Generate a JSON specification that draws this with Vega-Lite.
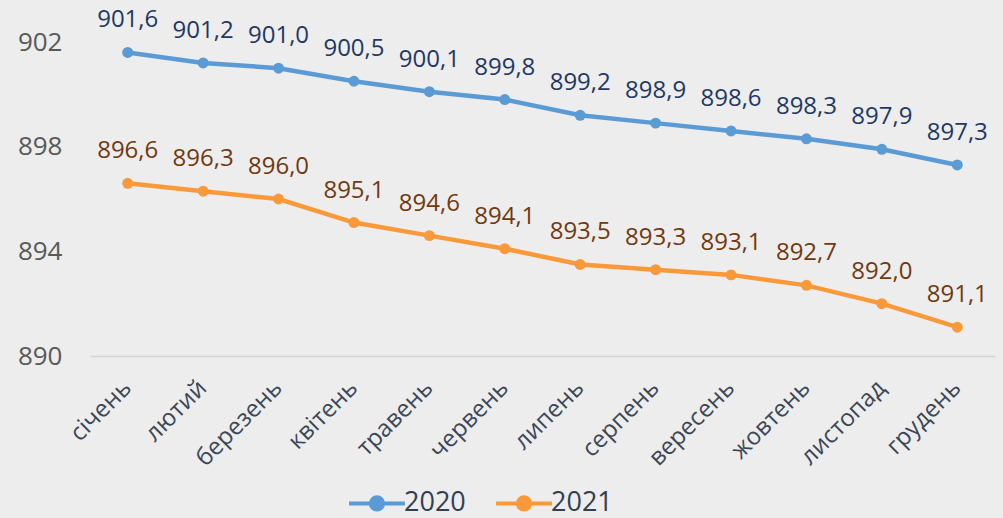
{
  "$schema": "https://vega.github.io/schema/vega-lite/v6.json",
  "width": 905,
  "height": 314,
  "autosize": {"type": "none"},
  "padding": {"left": 90, "top": 42, "right": 8, "bottom": 162},
  "background": "#ededed",
  "config": {
    "view": {"stroke": null},
    "font": "Open Sans",
    "locale": {"number": {"decimal": ",", "thousands": " ", "grouping": [3], "currency": ["", ""]}}
  },
  "data": {
    "values": [
      {"month": "січень", "year": "2020", "value": 901.6},
      {"month": "лютий", "year": "2020", "value": 901.2},
      {"month": "березень", "year": "2020", "value": 901.0},
      {"month": "квітень", "year": "2020", "value": 900.5},
      {"month": "травень", "year": "2020", "value": 900.1},
      {"month": "червень", "year": "2020", "value": 899.8},
      {"month": "липень", "year": "2020", "value": 899.2},
      {"month": "серпень", "year": "2020", "value": 898.9},
      {"month": "вересень", "year": "2020", "value": 898.6},
      {"month": "жовтень", "year": "2020", "value": 898.3},
      {"month": "листопад", "year": "2020", "value": 897.9},
      {"month": "грудень", "year": "2020", "value": 897.3},
      {"month": "січень", "year": "2021", "value": 896.6},
      {"month": "лютий", "year": "2021", "value": 896.3},
      {"month": "березень", "year": "2021", "value": 896.0},
      {"month": "квітень", "year": "2021", "value": 895.1},
      {"month": "травень", "year": "2021", "value": 894.6},
      {"month": "червень", "year": "2021", "value": 894.1},
      {"month": "липень", "year": "2021", "value": 893.5},
      {"month": "серпень", "year": "2021", "value": 893.3},
      {"month": "вересень", "year": "2021", "value": 893.1},
      {"month": "жовтень", "year": "2021", "value": 892.7},
      {"month": "листопад", "year": "2021", "value": 892.0},
      {"month": "грудень", "year": "2021", "value": 891.1}
    ]
  },
  "encoding": {
    "x": {
      "field": "month", "type": "nominal", "sort": null, "title": null,
      "scale": {"type": "band", "paddingInner": 0, "paddingOuter": 0},
      "axis": {
        "labelAngle": -45, "labelAlign": "right", "labelBaseline": "middle",
        "labelFontSize": 24, "labelColor": "#3b4757", "labelPadding": 28,
        "ticks": false, "domainColor": "#d4d4d4", "domainWidth": 1.5, "grid": false
      }
    },
    "y": {
      "field": "value", "type": "quantitative", "title": null,
      "scale": {"domain": [890, 902], "zero": false, "nice": false},
      "axis": {
        "values": [890, 894, 898, 902], "format": "d",
        "labelFontSize": 26, "labelColor": "#595959", "labelPadding": 28,
        "ticks": false, "domain": false, "grid": false
      }
    },
    "color": {
      "field": "year", "type": "nominal", "title": null,
      "scale": {"domain": ["2020", "2021"], "range": ["#5b9bd5", "#f9993a"]},
      "legend": {
        "orient": "none", "legendX": 266, "legendY": 440, "direction": "horizontal",
        "symbolType": "M-1.5,0H1.5M-0.33,0A0.33,0.33 0 1 1 0.33,0A0.33,0.33 0 1 1 -0.33,0Z",
        "symbolSize": 1390, "symbolStrokeWidth": 4,
        "labelFontSize": 27, "labelColor": "#333f50", "columnPadding": 22, "labelOffset": 6
      }
    }
  },
  "layer": [
    {
      "mark": {"type": "line", "strokeWidth": 4.5, "point": {"filled": true, "size": 120, "opacity": 1}}
    },
    {
      "mark": {"type": "text", "fontSize": 24, "baseline": "alphabetic", "dy": -25},
      "encoding": {
        "text": {"field": "value", "type": "quantitative", "format": ".1f"},
        "color": {
          "field": "year", "type": "nominal",
          "scale": null,
          "legend": null
        },
        "fill": {"field": "year", "type": "nominal", "legend": null, "scale": {"domain": ["2020", "2021"], "range": ["#1f3864", "#70390f"]}}
      }
    }
  ]
}
